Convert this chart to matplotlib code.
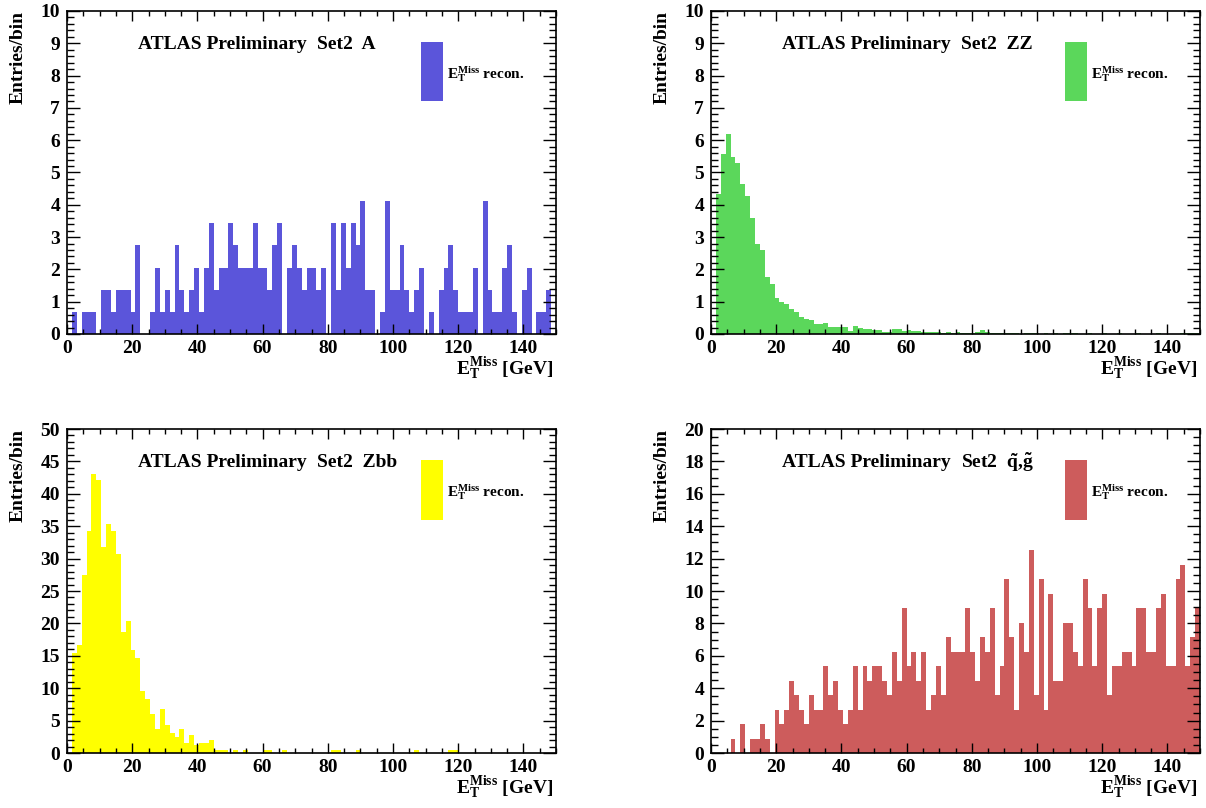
import numpy as np
import matplotlib
matplotlib.use("Agg")
import matplotlib.pyplot as plt
from matplotlib.patches import Rectangle
from matplotlib.ticker import MultipleLocator

plt.rcParams['font.family'] = ['Liberation Serif', 'DejaVu Serif']
plt.rcParams['font.weight'] = 'bold'
plt.rcParams['mathtext.fontset'] = 'custom'
plt.rcParams['mathtext.bf'] = 'Liberation Serif:bold'
plt.rcParams['mathtext.rm'] = 'Liberation Serif:bold'
plt.rcParams['mathtext.default'] = 'bf'

# 100 bins of 1.5 GeV from 0 to 150
edges = np.linspace(0, 150, 101)

# sample A: entries per bin, each entry weighted 0.685
a_weight = 0.685
a_counts = [0, 1, 0, 1, 1, 1, 0, 2, 2, 1,
            2, 2, 2, 1, 4, 0, 0, 1, 3, 1,
            2, 1, 4, 2, 1, 2, 3, 1, 3, 5,
            2, 3, 3, 5, 4, 3, 3, 3, 5, 3,
            3, 2, 4, 5, 0, 3, 4, 3, 2, 3,
            3, 2, 3, 0, 5, 2, 5, 3, 5, 4,
            6, 2, 2, 0, 1, 6, 2, 2, 4, 2,
            1, 2, 3, 0, 1, 0, 2, 3, 4, 2,
            1, 1, 1, 3, 0, 6, 2, 1, 1, 3,
            4, 1, 0, 2, 3, 0, 1, 1, 2, 0]

zz_vals = [0, 4.32, 5.58, 6.19, 5.49, 5.29, 4.63, 4.26, 3.60, 2.80,
           2.61, 1.75, 1.56, 1.12, 1.00, 0.93, 0.76, 0.67, 0.52, 0.47,
           0.43, 0.31, 0.31, 0.33, 0.23, 0.21, 0.22, 0.22, 0.10, 0.25,
           0.20, 0.15, 0.15, 0.12, 0.12, 0.07, 0.07, 0.14, 0.14, 0.10,
           0.12, 0.08, 0.10, 0.06, 0.07, 0.05, 0.06, 0.04, 0.05, 0.03,
           0.05, 0.03, 0.04, 0.02, 0.05, 0.12, 0.05, 0.03, 0.02, 0.03,
           0.02, 0.02, 0.03, 0, 0.02, 0.03, 0.02, 0, 0.03, 0.01,
           0.02, 0, 0.02, 0.04, 0.02, 0, 0.01, 0.02, 0, 0.01,
           0.02, 0, 0.01, 0.02, 0, 0.01, 0, 0.02, 0.01, 0,
           0.01, 0.02, 0, 0.01, 0, 0.01, 0.02, 0.03, 0.02, 0.03]

zbb_vals = [0, 15.5, 16.7, 27.5, 34.3, 43.0, 42.2, 31.8, 35.4, 34.3,
            30.7, 18.7, 20.3, 15.9, 14.7, 9.6, 8.3, 6.0, 3.65, 6.8,
            4.3, 3.1, 2.4, 3.65, 1.6, 2.8, 1.2, 1.6, 1.6, 2.0,
            0.46, 0.46, 0.46, 0, 0.46, 0, 0.5, 0, 0, 0,
            0.46, 0.46, 0, 0, 0.46, 0, 0, 0, 0, 0,
            0, 0, 0, 0, 0.46, 0.46, 0, 0, 0, 0.46,
            0, 0, 0, 0, 0, 0, 0, 0, 0, 0,
            0, 0.46, 0, 0, 0, 0, 0, 0, 0.46, 0.46,
            0, 0, 0, 0, 0, 0, 0, 0, 0, 0,
            0, 0, 0, 0, 0, 0, 0, 0, 0, 0]

# squark/gluino: entries per bin, each entry weighted 0.895
sq_weight = 0.895
sq_counts = [0, 0, 0, 0, 1, 0, 2, 0, 1, 1,
             2, 1, 0, 3, 2, 3, 5, 4, 3, 2,
             4, 3, 3, 6, 4, 5, 3, 2, 3, 6,
             3, 6, 5, 6, 6, 5, 4, 7, 5, 10,
             6, 7, 5, 7, 3, 4, 6, 4, 8, 7,
             7, 7, 10, 7, 5, 8, 7, 10, 4, 6,
             12, 8, 3, 9, 7, 14, 4, 12, 3, 11,
             5, 5, 9, 9, 7, 6, 12, 10, 6, 10,
             11, 4, 6, 6, 7, 7, 6, 10, 10, 7,
             7, 10, 11, 6, 6, 12, 13, 6, 8, 10]

panels = [
    # values, colour, sample label, ymax, major, minor, axes rect
    (np.array(a_counts) * a_weight, '#5b55da', 'A', 10, 1, 0.2,
     [67 / 1206, 1 - 334 / 808, 489 / 1206, 323 / 808]),
    (np.array(zz_vals), '#5bd75b', 'ZZ', 10, 1, 0.2,
     [711 / 1206, 1 - 334 / 808, 489 / 1206, 323 / 808]),
    (np.array(zbb_vals), '#ffff00', 'Zbb', 50, 5, 1,
     [67 / 1206, 1 - 753 / 808, 489 / 1206, 324 / 808]),
    (np.array(sq_counts) * sq_weight, '#cd5c5c', r'$\tilde{q}$,$\tilde{g}$', 20, 2, 0.5,
     [711 / 1206, 1 - 753 / 808, 489 / 1206, 324 / 808]),
]

fig = plt.figure(figsize=(12.06, 8.08), dpi=100)

for vals, col, name, ymax, major, minor, rect in panels:
    ax = fig.add_axes(rect)
    ax.stairs(vals, edges, fill=True, color=col, linewidth=0)
    ax.set_xlim(0, 150)
    ax.set_ylim(0, ymax)
    ax.xaxis.set_major_locator(MultipleLocator(20))
    ax.xaxis.set_minor_locator(MultipleLocator(5))
    ax.yaxis.set_major_locator(MultipleLocator(major))
    ax.yaxis.set_minor_locator(MultipleLocator(minor))
    ax.tick_params(which='both', direction='in', top=True, right=True,
                   labelsize=14, width=1.0)
    ax.tick_params(axis='x', which='major', length=7, pad=4)
    ax.tick_params(axis='x', which='minor', length=3.5)
    ax.tick_params(axis='y', which='major', length=9.5, pad=5)
    ax.tick_params(axis='y', which='minor', length=4.7)
    for lab in ax.get_xticklabels() + ax.get_yticklabels():
        lab.set_fontweight('bold')
    for sp in ax.spines.values():
        sp.set_linewidth(1.2)

    ax.text(-0.1, 1.0, 'Entries/bin', transform=ax.transAxes, rotation=90,
            ha='center', va='top', fontsize=14, fontweight='bold')
    ax.text(0.994, -0.066, r'$E_T^{Miss}$ [GeV]', transform=ax.transAxes,
            ha='right', va='top', fontsize=14, fontweight='bold')

    ax.text(0.145, 0.897, 'ATLAS Preliminary', transform=ax.transAxes,
            ha='left', va='center', fontsize=14, fontweight='bold')
    ax.text(0.512, 0.897, 'Set2  ' + name, transform=ax.transAxes,
            ha='left', va='center', fontsize=14, fontweight='bold')

    ax.add_patch(Rectangle((0.724, 0.72), 0.045, 0.183, transform=ax.transAxes,
                           facecolor=col, edgecolor='none'))
    ax.text(0.777, 0.805, r'$E_T^{Miss}$ recon.', transform=ax.transAxes,
            ha='left', va='center', fontsize=11, fontweight='bold')

fig.savefig('out.png', dpi=100)
